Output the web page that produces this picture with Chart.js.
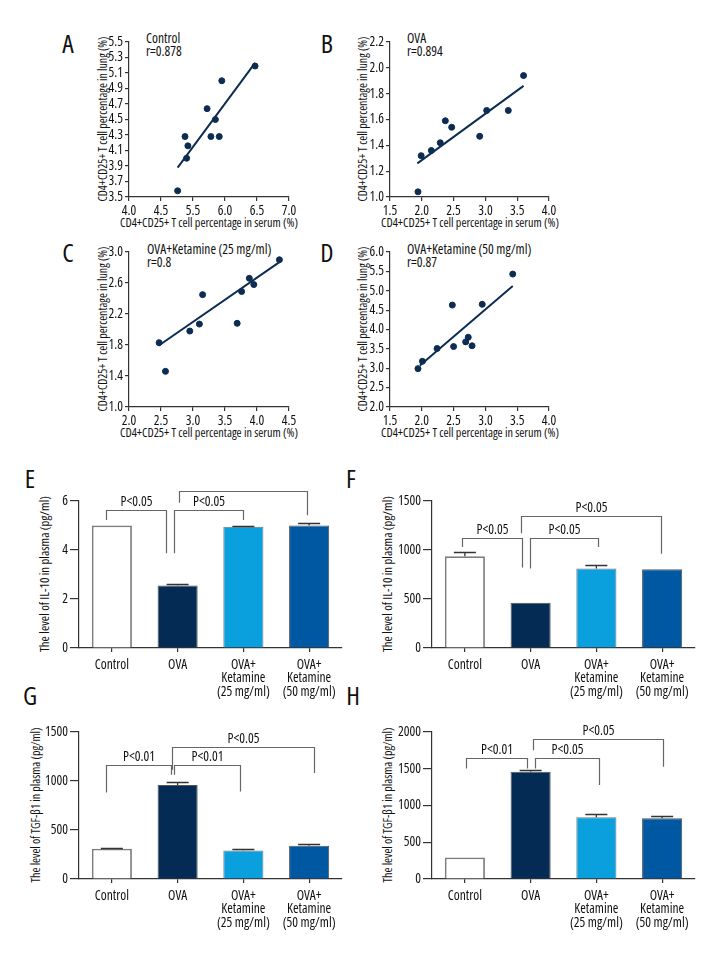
<!DOCTYPE html>
<html lang="en">
<head>
<meta charset="UTF-8" />
<title>CD4+CD25+ T cells, IL-10 and TGF-β1</title>
<script src="https://cdn.jsdelivr.net/npm/chart.js@4.4.1/dist/chart.umd.min.js"></script>
<style>
  body { margin: 0; background: #fff; }
  #fig { position: relative; width: 720px; height: 960px; overflow: hidden; color: #111;
         font-family: "Open Sans", sans-serif; font-stretch: condensed; }
  #fig canvas { position: absolute; }
  .letter { position: absolute; font-size: 26px; line-height: 26px; transform: translate(-50%, -50%); }
  .note { position: absolute; font-size: 13.5px; line-height: 13px; white-space: nowrap; }
  .xt, .yt { position: absolute; white-space: nowrap; line-height: 1; font-size: 12.5px; }
  .xt { transform: translate(-50%, -50%); }
  .yt { transform: translate(-50%, -50%) rotate(-90deg); }
</style>
</head>
<body>
<div id="fig">
  <div class="letter" style="left:68px;top:43px">A</div>
  <div class="letter" style="left:327px;top:43px">B</div>
  <div class="letter" style="left:68px;top:252px">C</div>
  <div class="letter" style="left:327px;top:252px">D</div>
  <div class="letter" style="left:30px;top:478px">E</div>
  <div class="letter" style="left:351px;top:478px">F</div>
  <div class="letter" style="left:30px;top:695px">G</div>
  <div class="letter" style="left:353px;top:695px">H</div>

  <div class="note" style="left:146px;top:32px">Control<br>r=0.878</div>
  <div class="note" style="left:407px;top:32px">OVA<br>r=0.894</div>
  <div class="note" style="left:147px;top:243px">OVA+Ketamine (25 mg/ml)<br>r=0.8</div>
  <div class="note" style="left:407px;top:243px">OVA+Ketamine (50 mg/ml)<br>r=0.87</div>

  <!-- axis titles -->
  <div class="xt" data-w="178" style="left:209px;top:223px">CD4+CD25+ T cell percentage in serum (%)</div>
  <div class="xt" data-w="178" style="left:470px;top:223px">CD4+CD25+ T cell percentage in serum (%)</div>
  <div class="xt" data-w="178" style="left:209px;top:433px">CD4+CD25+ T cell percentage in serum (%)</div>
  <div class="xt" data-w="178" style="left:470px;top:433px">CD4+CD25+ T cell percentage in serum (%)</div>
  <div class="yt" data-w="165" style="left:103px;top:119px">CD4+CD25+ T cell percentage in lung (%)</div>
  <div class="yt" data-w="165" style="left:363px;top:119px">CD4+CD25+ T cell percentage in lung (%)</div>
  <div class="yt" data-w="165" style="left:103px;top:329px">CD4+CD25+ T cell percentage in lung (%)</div>
  <div class="yt" data-w="165" style="left:363px;top:329px">CD4+CD25+ T cell percentage in lung (%)</div>
  <div class="yt" data-w="156" style="left:44px;top:574px">The level of IL-10 in plasma (pg/ml)</div>
  <div class="yt" data-w="156" style="left:387px;top:574px">The level of IL-10 in plasma (pg/ml)</div>
  <div class="yt" data-w="155" style="left:36px;top:805px">The level of TGF-β1 in plasma (pg/ml)</div>
  <div class="yt" data-w="155" style="left:388px;top:805px">The level of TGF-β1 in plasma (pg/ml)</div>

  <canvas id="chartA"></canvas>
  <canvas id="chartB"></canvas>
  <canvas id="chartC"></canvas>
  <canvas id="chartD"></canvas>
  <canvas id="chartE"></canvas>
  <canvas id="chartF"></canvas>
  <canvas id="chartG"></canvas>
  <canvas id="chartH"></canvas>
</div>
<script>
// ---- scatter data (serum % vs lung %) ----
const serumA = [5.26, 5.40, 5.375, 5.42, 5.72, 5.78, 5.85, 5.91, 5.95, 6.47];
const lungA  = [3.58, 4.00, 4.28, 4.16, 4.64, 4.28, 4.50, 4.28, 5.00, 5.19];
const fitSerumA = [5.26, 6.47];
const fitLungA  = [3.88, 5.23];
const xTickLabelsA = ["4.0", "4.5", "5.5", "6.0", "6.5", "7.0"];

const serumB = [1.94, 1.99, 2.15, 2.29, 2.37, 2.47, 2.91, 3.02, 3.36, 3.60];
const lungB  = [1.04, 1.32, 1.36, 1.42, 1.59, 1.54, 1.47, 1.67, 1.67, 1.94];
const fitSerumB = [1.93, 3.60];
const fitLungB  = [1.26, 1.86];

const serumC = [2.47, 2.57, 2.95, 3.10, 3.15, 3.69, 3.76, 3.88, 3.95, 4.35];
const lungC  = [1.83, 1.46, 1.98, 2.07, 2.45, 2.08, 2.49, 2.66, 2.58, 2.90];
const fitSerumC = [2.46, 4.35];
const fitLungC  = [1.79, 2.87];

const serumD = [1.94, 2.01, 2.24, 2.48, 2.50, 2.69, 2.73, 2.79, 2.95, 3.43];
const lungD  = [2.99, 3.18, 3.51, 4.63, 3.56, 3.68, 3.80, 3.58, 4.65, 5.43];
const fitSerumD = [1.97, 3.43];
const fitLungD  = [3.07, 5.12];

// ---- bar data ----
const groups = ["Control", "OVA", ["OVA+", "Ketamine", "(25 mg/ml)"], ["OVA+", "Ketamine", "(50 mg/ml)"]];
const il10E = [5.0, 2.55, 4.95, 5.0];
const il10ErrE = [0, 0.05, 0.03, 0.12];
const il10F = [936, 462, 811, 804];
const il10ErrF = [45, 0, 40, 0];
const tgfG = [309, 959, 292, 340];
const tgfErrG = [4, 26, 12, 18];
const tgfH = [293, 1458, 840, 826];
const tgfErrH = [0, 22, 45, 30];

// brackets: [from group, to group, bar height, left leg end, right leg end, label]
const bracketsE = [[-0.09, 0.83, 5.62, 5.22, 3.87, "P<0.05"], [0.94, 2.0, 5.62, 3.87, 5.22, "P<0.05"], [1.02, 2.97, 6.39, 5.93, 5.42, "P<0.05"]];
const bracketsF = [[-0.05, 0.87, 1121, 1030, 821, "P<0.05"], [0.99, 2.03, 1121, 811, 1030, "P<0.05"], [0.86, 2.99, 1345, 1172, 963, "P<0.05"]];
const bracketsG = [[-0.09, 0.90, 1166, 883, 1064, "P<0.01"], [0.94, 1.95, 1166, 1064, 894, "P<0.01"], [0.91, 3.07, 1346, 1115, 1081, "P<0.05"]];
const bracketsH = [[0.02, 0.94, 1640, 1504, 1504, "P<0.01"], [1.07, 2.04, 1640, 1504, 1278, "P<0.05"], [1.04, 3.01, 1901, 1752, 1526, "P<0.05"]];

const barColors = ["#ffffff", "#032b54", "#0aa0de", "#0058a3"];
const navy = "#0d2c52";
const FONT = '"Open Sans", sans-serif';

Chart.defaults.font.family = FONT;
// font-stretch keyword goes into the canvas font string through the weight slot
Chart.defaults.font.weight = "condensed";
Chart.defaults.color = "#111";
Chart.defaults.animation = false;

// size each axis title so its text runs the length given in data-w
const measure = document.createElement("canvas").getContext("2d");
measure.font = "condensed 100px " + FONT;
document.querySelectorAll("[data-w]").forEach((el) => {
  const w = measure.measureText(el.textContent).width;
  el.style.fontSize = (100 * Number(el.dataset.w) / w).toFixed(2) + "px";
});

function placeCanvas(id, area, yw, xh, pad) {
  const c = document.getElementById(id);
  const left = area.l - yw - pad.l;
  const top = area.t - pad.t;
  c.width = area.r + pad.r - left;
  c.height = area.b + xh + pad.b - top;
  c.style.left = left + "px";
  c.style.top = top + "px";
  return c;
}

function axis(extra) {
  return Object.assign({
    border: { display: true, color: "#333", width: 1.2 },
    grid: { drawOnChartArea: false, drawTicks: true, tickLength: 4, color: "#333", lineWidth: 1.2 },
  }, extra);
}

function pts(xs, ys) {
  return xs.map((x, i) => ({ x: x, y: ys[i] }));
}

function scatterChart(id, area, d) {
  const yw = 34, xh = 22;
  const c = placeCanvas(id, area, yw, xh, { l: 2, t: 20, r: 14, b: 2 });
  new Chart(c, {
    type: "scatter",
    data: {
      datasets: [
        { data: pts(d.serum, d.lung), backgroundColor: navy, borderColor: navy, pointRadius: 3 },
        { type: "line", data: pts(d.fitX, d.fitY), borderColor: navy, borderWidth: 2, pointRadius: 0, fill: false },
      ],
    },
    options: {
      responsive: false,
      layout: { padding: { left: 2, top: 20, right: 14, bottom: 2 } },
      plugins: { legend: { display: false }, tooltip: { enabled: false } },
      scales: {
        x: axis({
          type: "linear", min: d.xMin, max: d.xMax,
          afterFit: (s) => { s.height = xh; },
          ticks: {
            stepSize: 0.5, padding: 2, font: { size: 13.5 }, autoSkip: false, maxRotation: 0,
            callback: (v, i) => (d.xLabels ? d.xLabels[i] : v.toFixed(1)),
          },
        }),
        y: axis({
          min: d.yMin, max: d.yMax,
          afterFit: (s) => { s.width = yw; },
          ticks: { stepSize: d.yStep, padding: 2, font: { size: 13.5 }, autoSkip: false, callback: (v) => v.toFixed(1) },
        }),
      },
    },
  });
}

const errorBars = {
  id: "errorBars",
  afterDatasetsDraw(chart, args, opts) {
    const errs = opts.values || [];
    const vals = chart.data.datasets[0].data;
    const ys = chart.scales.y;
    const ctx = chart.ctx;
    ctx.save();
    ctx.strokeStyle = "#333";
    ctx.lineWidth = 1.3;
    chart.getDatasetMeta(0).data.forEach((bar, i) => {
      if (!errs[i]) return;
      const yTop = Math.round(ys.getPixelForValue(vals[i] + errs[i])) + 0.5;
      ctx.beginPath();
      ctx.moveTo(bar.x, bar.y);
      ctx.lineTo(bar.x, yTop);
      ctx.moveTo(bar.x - 11, yTop);
      ctx.lineTo(bar.x + 11, yTop);
      ctx.stroke();
    });
    ctx.restore();
  },
};

const brackets = {
  id: "brackets",
  afterDraw(chart, args, opts) {
    const xs = chart.scales.x, ys = chart.scales.y, ctx = chart.ctx;
    ctx.save();
    ctx.strokeStyle = "#666";
    ctx.lineWidth = 1.2;
    ctx.fillStyle = "#111";
    ctx.font = "condensed 13.5px " + FONT;
    ctx.textAlign = "center";
    ctx.textBaseline = "bottom";
    (opts.items || []).forEach(([from, to, top, endL, endR, label]) => {
      const x1 = Math.round(xs.getPixelForValue(from)) + 0.5;
      const x2 = Math.round(xs.getPixelForValue(to)) + 0.5;
      const yt = Math.round(ys.getPixelForValue(top)) + 0.5;
      ctx.beginPath();
      ctx.moveTo(x1, ys.getPixelForValue(endL));
      ctx.lineTo(x1, yt);
      ctx.lineTo(x2, yt);
      ctx.lineTo(x2, ys.getPixelForValue(endR));
      ctx.stroke();
      ctx.fillText(label, (x1 + x2) / 2, yt - 2);
    });
    ctx.restore();
  },
};

function barChart(id, area, yw, d) {
  const xh = 58;
  const c = placeCanvas(id, area, yw, xh, { l: 2, t: 12, r: 8, b: 2 });
  new Chart(c, {
    type: "bar",
    data: {
      labels: groups,
      datasets: [{
        data: d.values,
        backgroundColor: barColors,
        borderColor: ["#7d7d7d", "#555", "#777", "#555"],
        borderWidth: [1.8, 1, 1, 1],
        barPercentage: 0.61,
        categoryPercentage: 1,
      }],
    },
    plugins: [errorBars, brackets],
    options: {
      responsive: false,
      layout: { padding: { left: 2, top: 12, right: 8, bottom: 2 } },
      plugins: {
        legend: { display: false }, tooltip: { enabled: false },
        errorBars: { values: d.errors },
        brackets: { items: d.brackets },
      },
      scales: {
        x: axis({
          afterFit: (s) => { s.height = xh; },
          grid: { offset: false, drawOnChartArea: false, tickLength: 4, color: "#333", lineWidth: 1.2 },
          ticks: { padding: 6, font: { size: 13.5, lineHeight: 1.0 }, maxRotation: 0, autoSkip: false },
        }),
        y: axis({
          min: 0, max: d.max,
          afterFit: (s) => { s.width = yw; },
          grid: { drawOnChartArea: false, tickLength: 9, color: "#333", lineWidth: 1.2 },
          ticks: { stepSize: d.step, padding: 2, font: { size: 13.5 }, callback: (v) => String(v) },
        }),
      },
    },
  });
}

scatterChart("chartA", { l: 129, t: 42, r: 289, b: 197 },
  { serum: serumA, lung: lungA, fitX: fitSerumA, fitY: fitLungA, xMin: 4.5, xMax: 7.0, xLabels: xTickLabelsA, yMin: 3.5, yMax: 5.5, yStep: 0.2 });
scatterChart("chartB", { l: 390, t: 42, r: 549, b: 197 },
  { serum: serumB, lung: lungB, fitX: fitSerumB, fitY: fitLungB, xMin: 1.5, xMax: 4.0, yMin: 1.0, yMax: 2.2, yStep: 0.2 });
scatterChart("chartC", { l: 129, t: 252, r: 289, b: 407 },
  { serum: serumC, lung: lungC, fitX: fitSerumC, fitY: fitLungC, xMin: 2.0, xMax: 4.5, yMin: 1.0, yMax: 3.0, yStep: 0.4 });
scatterChart("chartD", { l: 390, t: 252, r: 549, b: 407 },
  { serum: serumD, lung: lungD, fitX: fitSerumD, fitY: fitLungD, xMin: 1.5, xMax: 4.0, yMin: 2.0, yMax: 6.0, yStep: 0.5 });

barChart("chartE", { l: 79, t: 501, r: 342, b: 648 }, 30,
  { values: il10E, errors: il10ErrE, brackets: bracketsE, max: 6, step: 2 });
barChart("chartF", { l: 432, t: 501, r: 695, b: 648 }, 36,
  { values: il10F, errors: il10ErrF, brackets: bracketsF, max: 1500, step: 500 });
barChart("chartG", { l: 79, t: 732, r: 342, b: 879 }, 36,
  { values: tgfG, errors: tgfErrG, brackets: bracketsG, max: 1500, step: 500 });
barChart("chartH", { l: 432, t: 732, r: 695, b: 879 }, 36,
  { values: tgfH, errors: tgfErrH, brackets: bracketsH, max: 2000, step: 500 });
</script>
</body>
</html>
